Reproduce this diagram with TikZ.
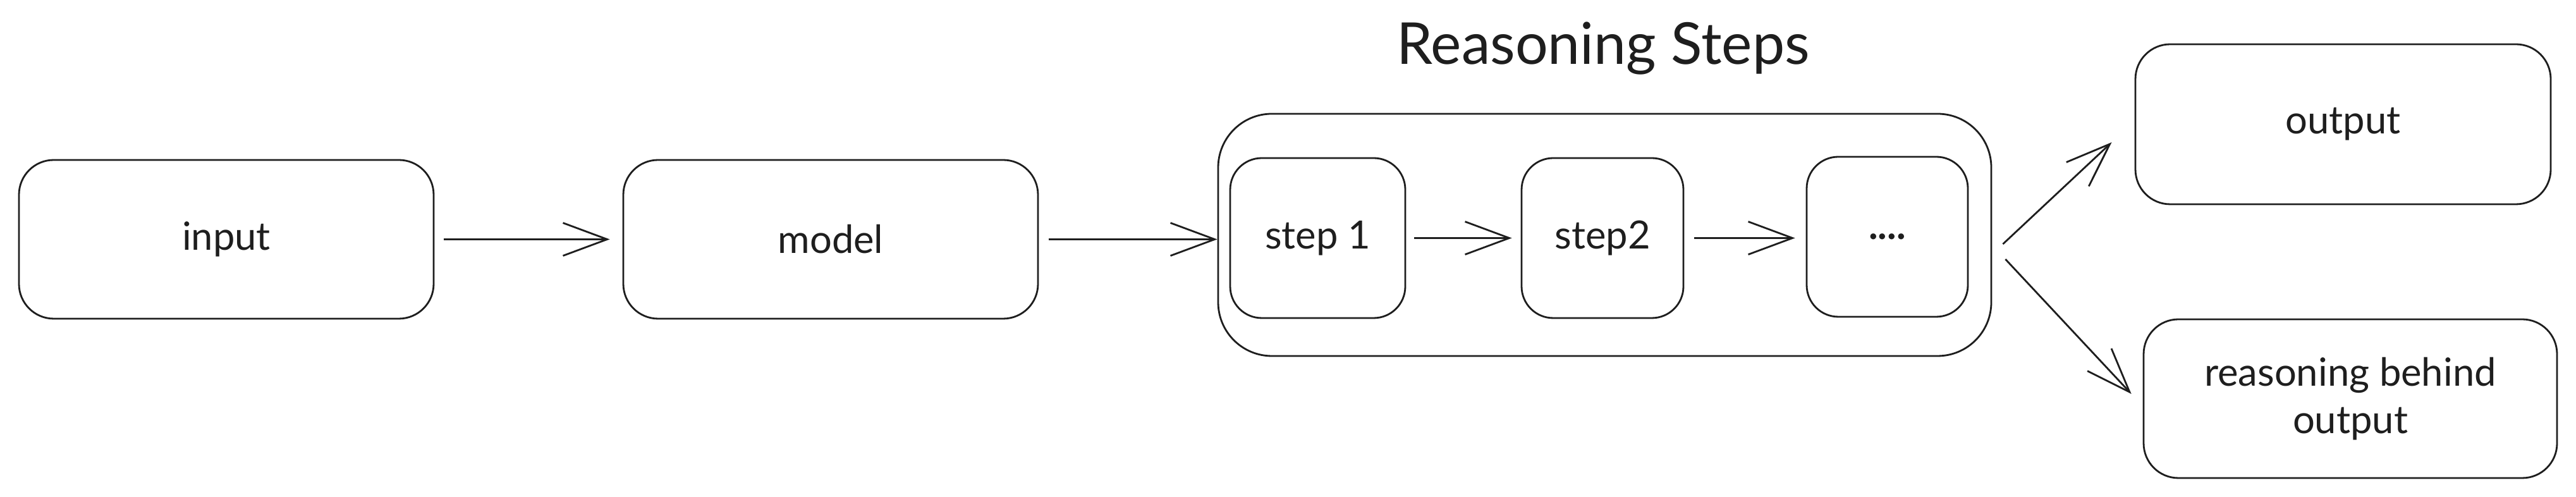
\documentclass[tikz,border=0pt]{standalone}
\usepackage{fontspec}
\setmainfont{Lato}
\usepackage{xcolor}
\usetikzlibrary{arrows.meta}
\definecolor{ink}{HTML}{1E1E1E}

\begin{document}
\begin{tikzpicture}[color=ink,line width=0.8pt,
  every node/.style={align=center,inner sep=0pt,font=\fontsize{17.5}{21.5}\selectfont},
  box/.style={draw,rounded corners=0.55cm,minimum width=6.56cm,minimum height=2.51cm},
  stepbox/.style={draw,rounded corners=0.5cm,minimum width=2.6cm,minimum height=2.53cm},
  >={Straight Barb[length=7mm,width=5.2mm]}]
\useasboundingbox (0,0) rectangle (40.75,7.86);
\node[box] (input) at (3.58,4.075) {input};
\node[box] (model) at (13.14,4.075) {model};
\node[draw,rounded corners=0.85cm,minimum width=12.23cm,minimum height=3.83cm] (steps) at (25.385,4.145) {};
\node[anchor=base,font=\fontsize{26}{31}\selectfont] (title) at (25.36,6.84) {Reasoning Steps};
\node[stepbox,minimum width=2.77cm] (s1) at (20.845,4.095) {step 1};
\node[stepbox,minimum width=2.56cm] (s2) at (25.35,4.095) {step2};
\node[stepbox,minimum width=2.55cm] (s3) at (29.855,4.115) {\textbf{....}};
\node[box,minimum width=6.57cm,minimum height=2.53cm] (out) at (37.065,5.895) {output};
\node[box,minimum width=6.54cm] (why) at (37.18,1.555) {reasoning behind\\output};
\draw[->,shorten <=0.15cm,shorten >=0.2cm] (input)--(model);
\draw[->,shorten <=0.16cm] (model)--(steps.west|-model);
\draw[->,shorten <=0.13cm,shorten >=0.14cm] (s1.east)--(s2.west);
\draw[->,shorten <=0.16cm,shorten >=0.17cm] (s2.east|-s1)--(s3.west|-s1);
\draw[->] ([xshift=0.17cm,yshift=-0.145cm]steps.east)--([xshift=-0.36cm,yshift=-0.285cm]out.west);
\draw[->] ([xshift=0.21cm,yshift=-0.385cm]steps.east)--([xshift=-0.18cm,yshift=0.075cm]why.west);
\end{tikzpicture}
\end{document}
